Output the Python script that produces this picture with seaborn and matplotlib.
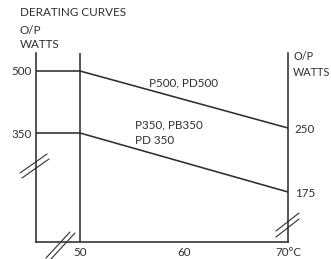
import matplotlib
matplotlib.use('Agg')
import matplotlib.pyplot as plt
import seaborn as sns

# Derating curves (temperature in degC, output in watts)
temps = [50, 70]
p500_watts = [500, 250]
p350_watts = [350, 175]
left_ticks = [500, 350]
right_ticks = [250, 175]
x_ticks = [50, 60, 70]
x_labels = ['50', '60', '70°C']

INK = '#2e2e2e'
sns.set_style('white')
plt.rcParams['font.family'] = ['Lato', 'DejaVu Sans']
plt.rcParams['text.color'] = INK
FS = 8.4

fig = plt.figure(figsize=(3.31, 2.59), dpi=100)
ax = fig.add_axes([0.1088, 0.0656, 0.7613, 0.7297])
ax.set_xlim(45.77, 70)
ax.set_ylim(86.3, 543.5)
ax2 = ax.twinx()
ax2.set_ylim(116.4, 337.9)

for a in (ax, ax2):
    a.set_facecolor('none')
    for s in a.spines.values():
        s.set_visible(False)
ax.spines['left'].set_visible(True)
ax.spines['bottom'].set_visible(True)
ax2.spines['right'].set_visible(True)
lw = 1.15
for s in (ax.spines['left'], ax.spines['bottom'], ax2.spines['right']):
    s.set_color(INK)
    s.set_linewidth(lw)

# flat part at full rating, then slope to the derated value (right scale)
x0 = ax.get_xlim()[0]
for full, derated in ((p500_watts[0], p500_watts[1]), (p350_watts[0], p350_watts[1])):
    sns.lineplot(x=[x0, temps[0]], y=[full, full], ax=ax, color=INK, lw=lw)
    start = ax2.transData.inverted().transform(ax.transData.transform((temps[0], full)))
    sns.lineplot(x=[temps[0], temps[1]], y=[start[1], derated], ax=ax2, color=INK, lw=lw)
ax.axvline(temps[0], color=INK, lw=lw)

ax.set_yticks(left_ticks)
ax.set_yticklabels([str(v) for v in left_ticks], fontsize=FS, color=INK)
ax.tick_params(axis='y', length=0, pad=3)
ax2.set_yticks(right_ticks)
ax2.set_yticklabels([str(v) for v in right_ticks], fontsize=FS, color=INK)
ax2.tick_params(axis='y', length=0, pad=5)
ax.set_xticks(x_ticks)
ax.set_xticklabels(x_labels, fontsize=FS, color=INK)
ax.tick_params(axis='x', direction='in', length=4, width=lw, color=INK, pad=3.5)
ax.set_xlabel('')
ax.set_ylabel('')
ax2.set_ylabel('')

# axis titles and curve labels
fig.text(20 / 331, 1 - 13 / 259, 'DERATING CURVES', fontsize=FS, va='center', ha='left')
fig.text(20 / 331, 1 - 30 / 259, 'O/P', fontsize=FS, va='center', ha='left')
fig.text(20 / 331, 1 - 45 / 259, 'WATTS', fontsize=FS, va='center', ha='left')
fig.text(293 / 331, 1 - 57 / 259, 'O/P', fontsize=FS - 0.6, va='center', ha='left')
fig.text(293 / 331, 1 - 72 / 259, 'WATTS', fontsize=FS - 0.6, va='center', ha='left')
fig.text(149 / 331, 1 - 83 / 259, 'P500, PD500', fontsize=FS, va='center', ha='left')
fig.text(135 / 331, 1 - 125 / 259, 'P350, PB350', fontsize=FS, va='center', ha='left')
fig.text(135 / 331, 1 - 140 / 259, 'PD 350', fontsize=FS, va='center', ha='left')

# axis break marks (pixel positions -> figure fraction)
def brk(x1, y1, x2, y2, dx, dy):
    for k in (0, 1):
        fig.add_artist(plt.Line2D([(x1 + k * dx) / 331, (x2 + k * dx) / 331],
                                  [1 - (y1 + k * dy) / 259, 1 - (y2 + k * dy) / 259],
                                  color=INK, lw=0.8))

brk(20, 173, 47, 154, 2, 5)
brk(46, 258, 70, 232, 5, 1)
brk(276, 231, 299, 213, 0, 6)

fig.savefig('out.png', dpi=100)
